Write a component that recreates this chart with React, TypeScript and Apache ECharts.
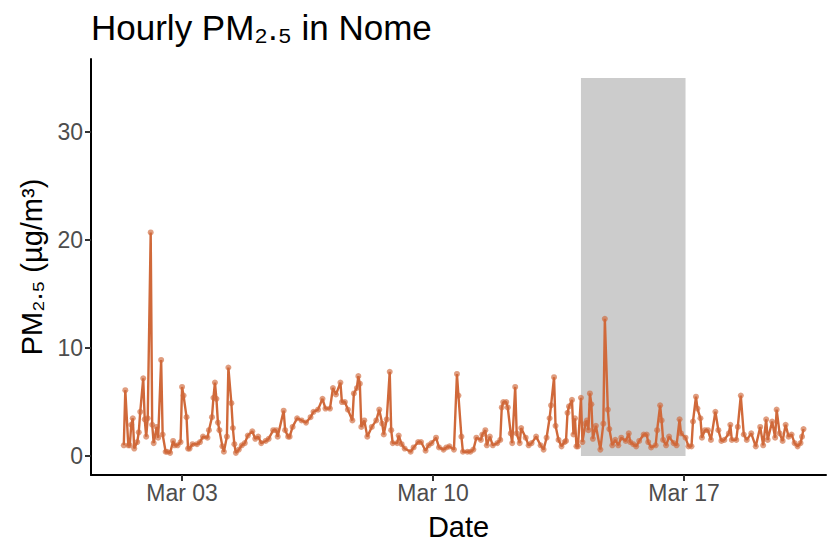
import React, { useEffect, useRef } from "react";
import * as echarts from "echarts";

// Hours since Mar 1 00:00 for each hourly reading
const hours = [
  9, 10, 12, 13, 14, 15, 16, 18, 19, 20, 22, 23, 24, 25, 27, 28, 29, 31, 32, 34,
  35, 37, 38, 40, 42, 43, 45, 47, 48, 49, 51, 52, 53, 55, 58, 60, 62, 65, 66, 68,
  69, 70, 71, 72, 73, 75, 76, 78, 79, 81, 82, 83, 84, 86, 88, 90, 92, 95, 97, 99,
  101, 104, 106, 109, 111, 112, 116, 117, 119, 120, 122, 125, 128, 131, 134, 136, 139, 142, 144, 147,
  149, 151, 154, 155, 157, 159, 162, 163, 165, 166, 167, 168, 170, 172, 175, 178, 180, 182, 183, 185,
  187, 188, 189, 192, 193, 195, 197, 201, 203, 206, 208, 211, 213, 215, 218, 220, 223, 225, 227, 230,
  232, 233, 235, 236, 239, 241, 243, 245, 248, 249, 251, 252, 254, 256, 259, 261, 262, 263, 265, 266,
  268, 269, 271, 272, 274, 275, 278, 280, 282, 285, 288, 290, 292, 294, 295, 297, 298, 300, 302, 304,
  305, 306, 307, 309, 310, 311, 312, 313, 315, 316, 318, 319, 320, 321, 322, 323, 325, 328, 330, 331,
  333, 334, 336, 338, 340, 342, 345, 347, 348, 350, 352, 354, 357, 359, 360, 362, 365, 366, 368, 369,
  370, 372, 374, 377, 379, 381, 382, 385, 387, 389, 390, 392, 393, 395, 396, 398, 400, 402, 405, 407,
  409, 411, 414, 415, 416, 419, 420, 422, 424, 426, 429, 432, 435, 437, 439, 440, 443, 445, 446, 448,
  450, 452, 454, 456, 458, 460, 462, 463, 464,
];

// PM2.5 (µg/m³) values matching the hours above
const pm25 = [
  1.0, 6.1, 1.0, 1.0, 2.9, 3.5, 0.7, 1.3, 2.2, 4.1, 7.2, 3.4, 1.8, 3.5, 20.7, 2.9, 1.2, 2.7, 1.7, 8.9,
  2.0, 0.4, 0.4, 0.3, 1.4, 1.0, 1.0, 1.3, 6.4, 5.6, 3.6, 0.7, 0.7, 1.1, 1.1, 1.3, 1.8, 1.7, 2.4, 3.6,
  5.4, 6.8, 5.3, 3.1, 2.4, 0.9, 0.4, 1.8, 8.2, 4.9, 2.6, 1.1, 0.3, 0.6, 1.0, 1.2, 1.9, 2.3, 1.6, 1.8,
  1.2, 1.4, 1.6, 2.4, 2.4, 1.8, 4.2, 2.4, 1.8, 1.8, 2.7, 3.5, 3.3, 3.1, 3.6, 4.1, 4.3, 5.3, 4.4, 4.4,
  6.3, 5.7, 6.8, 5.0, 5.0, 4.3, 3.3, 5.8, 6.3, 7.4, 6.7, 2.7, 3.3, 1.8, 2.7, 3.3, 4.3, 3.0, 2.0, 3.4,
  7.8, 2.4, 1.2, 1.2, 1.9, 1.1, 0.7, 0.4, 0.8, 1.3, 1.3, 0.5, 1.0, 1.2, 1.7, 0.8, 0.6, 0.8, 0.9, 0.6,
  7.6, 5.6, 1.8, 0.4, 0.4, 0.4, 0.6, 1.7, 1.5, 2.0, 2.4, 1.0, 1.8, 1.0, 1.2, 1.5, 4.5, 5.0, 5.0, 4.5,
  2.1, 1.2, 6.4, 2.1, 1.2, 2.6, 1.7, 1.0, 1.2, 1.8, 1.0, 0.6, 1.7, 3.5, 4.7, 7.3, 2.8, 1.5, 0.9, 1.3,
  1.4, 4.0, 4.6, 5.2, 2.0, 3.5, 0.9, 0.9, 5.4, 1.3, 3.0, 3.3, 2.4, 5.8, 4.8, 1.6, 2.8, 0.6, 3.0, 12.7,
  4.3, 2.5, 1.0, 1.5, 1.0, 1.7, 1.4, 2.1, 1.3, 1.1, 0.9, 1.4, 2.0, 2.0, 1.3, 0.8, 1.0, 2.4, 4.7, 3.3,
  1.5, 1.0, 1.8, 1.2, 1.0, 3.4, 2.1, 1.7, 0.9, 0.9, 3.2, 5.5, 4.4, 3.5, 1.7, 2.4, 2.4, 1.5, 4.1, 2.4,
  1.4, 1.5, 2.1, 2.9, 1.5, 1.5, 2.7, 5.6, 2.0, 1.5, 2.1, 0.9, 2.7, 1.0, 3.4, 1.5, 3.2, 1.7, 4.3, 2.1,
  1.4, 2.9, 1.8, 2.0, 1.2, 0.9, 1.2, 1.8, 2.5,
];

// X tick positions (days since Mar 1 00:00) and their labels
const xTickDays = [2, 9, 16];
const xTickLabels = ["Mar 03", "Mar 10", "Mar 17"];
const yTicks = [0, 10, 20, 30];

// Shaded period (days since Mar 1 00:00) and its height
const shadedPeriod = [13.125, 16.042];
const shadedRange = [0, 35];

const FONT = "'Liberation Sans', Arial, Helvetica, sans-serif";
const LINE_COLOR = "#D0693A";

export default function App() {
  const ref = useRef<HTMLDivElement>(null);

  useEffect(() => {
    if (!ref.current) return;
    const chart = echarts.init(ref.current, null, { renderer: "svg" });
    const data = hours.map((h, i) => [h / 24, pm25[i]]);

    chart.setOption({
      animation: false,
      backgroundColor: "#ffffff",
      textStyle: { fontFamily: FONT },
      title: {
        text: "Hourly PM₂.₅ in Nome",
        left: 86,
        top: 5,
        textStyle: { fontFamily: FONT, fontSize: 35, fontWeight: "normal", color: "#000000" },
      },
      grid: {
        left: 91,
        right: 2,
        top: 59,
        bottom: 67,
        containLabel: false,
        outerBoundsMode: "none",
      },
      xAxis: {
        type: "value",
        min: -0.54,
        max: 19.96,
        name: "Date",
        nameLocation: "middle",
        nameGap: 37,
        nameTextStyle: { fontFamily: FONT, fontSize: 29, color: "#000000" },
        axisLine: { show: true, onZero: false, lineStyle: { color: "#000000", width: 2 } },
        axisTick: {
          show: true,
          length: 6,
          customValues: xTickDays,
          lineStyle: { color: "#333333", width: 2 },
        },
        axisLabel: {
          customValues: xTickDays,
          formatter: (v: number) => {
            const i = xTickDays.findIndex((d) => Math.abs(d - v) < 1e-6);
            return i >= 0 ? xTickLabels[i] : "";
          },
          color: "#4D4D4D",
          fontSize: 23,
          fontFamily: FONT,
          margin: 6,
        },
        splitLine: { show: false },
      },
      yAxis: {
        type: "value",
        min: -1.75,
        max: 36.75,
        name: "PM₂.₅ (µg/m³)",
        nameLocation: "middle",
        nameGap: 44,
        nameTextStyle: { fontFamily: FONT, fontSize: 29, color: "#000000" },
        axisLine: { show: true, onZero: false, lineStyle: { color: "#000000", width: 2 } },
        axisTick: {
          show: true,
          length: 6,
          customValues: yTicks,
          lineStyle: { color: "#333333", width: 2 },
        },
        axisLabel: {
          customValues: yTicks,
          color: "#4D4D4D",
          fontSize: 23,
          fontFamily: FONT,
          margin: 8,
        },
        splitLine: { show: false },
      },
      series: [
        {
          type: "line",
          data,
          symbol: "circle",
          symbolSize: 6,
          showAllSymbol: true,
          lineStyle: { color: LINE_COLOR, width: 2.4 },
          itemStyle: { color: "rgba(208,105,58,0.65)", borderWidth: 0 },
          emphasis: { disabled: true },
          z: 3,
          markArea: {
            silent: true,
            itemStyle: { color: "#CCCCCC", opacity: 1 },
            data: [
              [
                { xAxis: shadedPeriod[0], yAxis: shadedRange[0] },
                { xAxis: shadedPeriod[1], yAxis: shadedRange[1] },
              ],
            ],
          },
        },
      ],
    });

    return () => chart.dispose();
  }, []);

  return (
    <div
      ref={ref}
      style={{ position: "fixed", left: 0, top: 0, width: 828, height: 542, background: "#fff" }}
    />
  );
}
